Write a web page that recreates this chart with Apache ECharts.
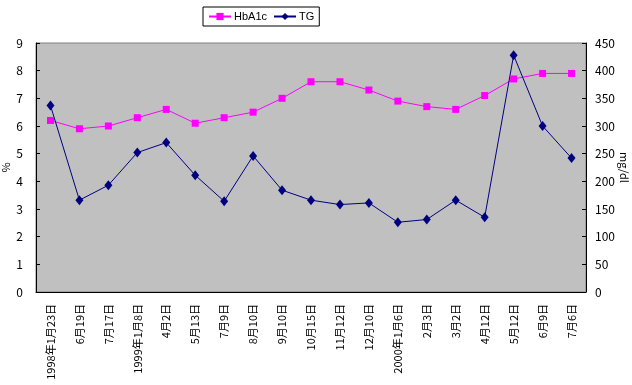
<!DOCTYPE html>
<html>
<head>
<meta charset="utf-8">
<script src="https://cdn.jsdelivr.net/npm/echarts@6/dist/echarts.min.js"></script>
<style>html,body{margin:0;padding:0;background:#fff;}#c{width:632px;height:385px;}</style>
</head>
<body>
<div id="c"></div>
<script>
const categories = ['1998年1月23日','6月19日','7月17日','1999年1月8日','4月2日','5月13日','7月9日','8月10日','9月10日','10月15日','11月12日','12月10日','2000年1月6日','2月3日','3月2日','4月12日','5月12日','6月9日','7月6日'];
const hba1c = [6.2,5.9,6.0,6.3,6.6,6.1,6.3,6.5,7.0,7.6,7.6,7.3,6.9,6.7,6.6,7.1,7.7,7.9,7.9];
const tg = [337,166,193,252,270,211,164,246,184,166,158,161,126,131,166,135,428,300,242];
const leftTicks = [0,1,2,3,4,5,6,7,8,9];
const rightTicks = [0,50,100,150,200,250,300,350,400,450];

const font = '"Noto Sans CJK JP", "Noto Sans", sans-serif';
const chart = echarts.init(document.getElementById('c'));
chart.setOption({
  animation: false,
  backgroundColor: '#fff',
  textStyle: {fontFamily: font},
  legend: {
    top: 7, left: 203,
    borderColor: '#000', borderWidth: 1, padding: [4,5],
    backgroundColor: '#fff',
    itemWidth: 22, itemHeight: 9, itemGap: 6,
    textStyle: {fontSize: 11, color: '#000', fontFamily: '"Liberation Sans", Arial, sans-serif', padding: [0,0,0,-2]},
    data: ['HbA1c','TG']
  },
  grid: {left: 36, right: 46, top: 43, bottom: 93, containLabel: false, outerBoundsMode: 'none', show: true, backgroundColor: '#C0C0C0', borderColor: '#808080', borderWidth: 1},
  xAxis: {
    type: 'category', data: categories, boundaryGap: true,
    axisLine: {lineStyle: {color: '#000'}},
    axisTick: {inside: true, length: 4, lineStyle: {color: '#000'}},
    axisLabel: {rotate: 90, interval: 0, fontSize: 11, color: '#000', margin: 12, fontFamily: font}
  },
  yAxis: [
    {
      type: 'value', min: leftTicks[0], max: leftTicks[leftTicks.length-1], interval: 1,
      name: '%', nameLocation: 'middle', nameRotate: 90, nameGap: 25, nameMoveOverlap: false,
      nameTextStyle: {fontSize: 11, color: '#000'},
      axisLine: {show: true, lineStyle: {color: '#000'}},
      axisTick: {show: true, inside: true, length: 4, lineStyle: {color: '#000'}},
      splitLine: {show: false},
      axisLabel: {fontSize: 12, color: '#000', margin: 13}
    },
    {
      type: 'value', min: rightTicks[0], max: rightTicks[rightTicks.length-1], interval: 50,
      name: 'mg/dl', nameLocation: 'middle', nameRotate: -90, nameGap: 33, nameMoveOverlap: false,
      nameTextStyle: {fontSize: 11, color: '#000'},
      axisLine: {show: true, lineStyle: {color: '#000'}},
      axisTick: {show: true, inside: true, length: 4, lineStyle: {color: '#000'}},
      splitLine: {show: false},
      axisLabel: {fontSize: 12, color: '#000', margin: 9}
    }
  ],
  series: [
    {
      name: 'HbA1c', type: 'line', data: hba1c, yAxisIndex: 0,
      symbol: 'rect', symbolSize: 7,
      lineStyle: {color: '#FF00FF', width: 1},
      itemStyle: {color: '#FF00FF'}
    },
    {
      name: 'TG', type: 'line', data: tg, yAxisIndex: 1,
      symbol: 'diamond', symbolSize: [8,10],
      lineStyle: {color: '#000080', width: 1},
      itemStyle: {color: '#000080'}
    }
  ]
});
</script>
</body>
</html>
